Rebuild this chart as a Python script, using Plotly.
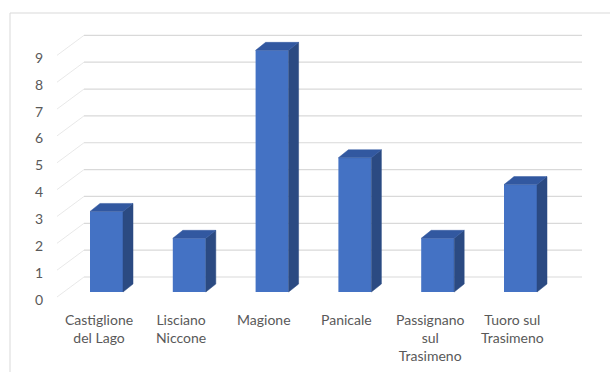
import plotly.graph_objects as go

# Comuni del Trasimeno and their counts
categories = ["Castiglione<br>del Lago", "Lisciano<br>Niccone", "Magione", "Panicale",
              "Passignano<br>sul<br>Trasimeno", "Tuoro sul<br>Trasimeno"]
values = [3, 2, 9, 5, 2, 4]
tick_values = [0, 1, 2, 3, 4, 5, 6, 7, 8, 9]

W, H = 610, 372
# axis scales: category index on x, value on y
PX_PER_CAT = 82.8
PX_PER_UNIT = 26.85
X0_PX = 106.5      # pixel of first category centre
Y0_PX = 292.0      # pixel of value 0 at bar front
x_range = [(0 - X0_PX) / PX_PER_CAT, (W - X0_PX) / PX_PER_CAT]
y_range = [(Y0_PX - H) / PX_PER_UNIT, Y0_PX / PX_PER_UNIT]

def dx(px):
    return px / PX_PER_CAT

def dy(px):
    return px / PX_PER_UNIT

bar_w = dx(33)
depth_x, depth_y = dx(10), dy(8)           # bar depth
wall_x0, wall_x1 = dx(84 - X0_PX), dx(582 - X0_PX)
wall_dy = dy(15)                           # back wall offset
floor_x0, floor_dy = dx(57 - X0_PX), dy(-5)  # front edge of side wall
label_shift = dx(-8)                       # category labels sit on the floor's front edge

FRONT = "#4472C4"
TOP = "#3258A0"
SIDE = "#2B4A82"
GRID = "#d9d9d9"
TEXT = "#595959"
FONT = "Lato, 'Open Sans', sans-serif"

xs = list(range(len(values)))
fig = go.Figure()

# front faces
fig.add_trace(go.Bar(x=xs, y=values, width=bar_w, marker=dict(color=FRONT, line=dict(width=0)),
                     hoverinfo="skip", showlegend=False))

# side and top faces
for i, v in zip(xs, values):
    r = i + bar_w / 2
    l = i - bar_w / 2
    fig.add_trace(go.Scatter(
        x=[r, r + depth_x, r + depth_x, r, r], y=[0, depth_y, v + depth_y, v, 0],
        fill="toself", fillcolor=SIDE, mode="lines", line=dict(width=0.5, color=SIDE),
        hoverinfo="skip", showlegend=False))
    fig.add_trace(go.Scatter(
        x=[l, r, r + depth_x, l + depth_x, l], y=[v, v, v + depth_y, v + depth_y, v],
        fill="toself", fillcolor=TOP, mode="lines", line=dict(width=0.5, color=TOP),
        hoverinfo="skip", showlegend=False))

shapes = []
annotations = []
for t in tick_values:
    # back wall gridline
    shapes.append(dict(type="line", xref="x", yref="y", layer="below",
                       x0=wall_x0, x1=wall_x1, y0=t + wall_dy, y1=t + wall_dy,
                       line=dict(color=GRID, width=1.2)))
    # side wall diagonal
    shapes.append(dict(type="line", xref="x", yref="y", layer="below",
                       x0=floor_x0, x1=wall_x0, y0=t + floor_dy, y1=t + wall_dy,
                       line=dict(color="#e2e2e2", width=0.8)))
    annotations.append(dict(x=dx(39 - X0_PX), y=t - dy(7), xref="x", yref="y",
                            text=str(t), showarrow=False, xanchor="center", yanchor="middle",
                            font=dict(family=FONT, size=14, color=TEXT)))

for i, c in zip(xs, categories):
    annotations.append(dict(x=i + label_shift, y=-dy(309 - Y0_PX), xref="x", yref="y",
                            text=c, showarrow=False, xanchor="center", yanchor="top",
                            align="center",
                            font=dict(family=FONT, size=14, color=TEXT)))

# chart frame
shapes.append(dict(type="line", xref="paper", yref="paper", x0=10 / W, x1=1.01,
                   y0=1 - 13 / H, y1=1 - 13 / H, line=dict(color=GRID, width=1)))
shapes.append(dict(type="line", xref="paper", yref="paper", x0=10 / W, x1=10 / W,
                   y0=1 - 13 / H, y1=-0.01, line=dict(color=GRID, width=1)))

fig.update_layout(
    width=W, height=H, margin=dict(l=0, r=0, t=0, b=0),
    paper_bgcolor="white", plot_bgcolor="white",
    xaxis=dict(range=x_range, visible=False, fixedrange=True),
    yaxis=dict(range=y_range, visible=False, fixedrange=True),
    shapes=shapes, annotations=annotations, showlegend=False,
)

fig.write_html("out.html")
